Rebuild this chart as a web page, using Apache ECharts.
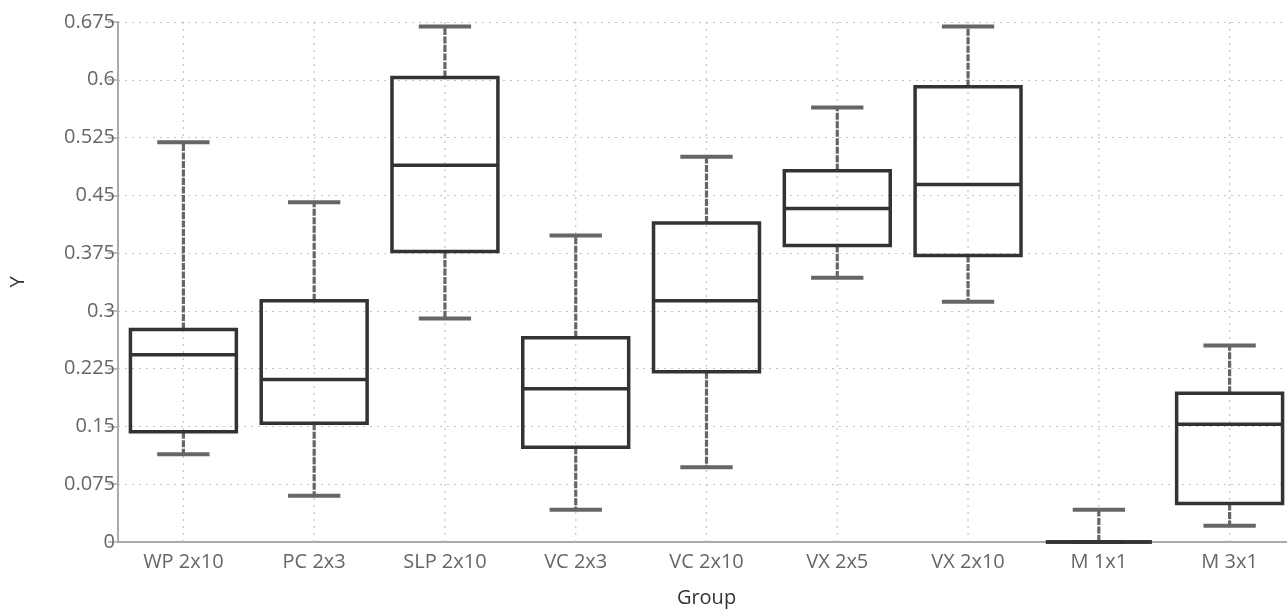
<!DOCTYPE html>
<html>
<head>
<meta charset="utf-8">
<title>Box plot by group</title>
<script src="https://cdn.jsdelivr.net/npm/echarts@6/dist/echarts.min.js"></script>
<style>
  html, body { margin: 0; padding: 0; background: #fff; }
  #chart { width: 1287px; height: 612px; }
</style>
</head>
<body>
<div id="chart"></div>
<script>
// Groups along the x axis
const categories = ['WP 2x10', 'PC 2x3', 'SLP 2x10', 'VC 2x3', 'VC 2x10', 'VX 2x5', 'VX 2x10', 'M 1x1', 'M 3x1'];

// Five-number summary per group
const lowerWhisker = [0.114, 0.060, 0.290, 0.042, 0.097, 0.343, 0.312, 0.000, 0.021];
const q1           = [0.143, 0.154, 0.377, 0.123, 0.221, 0.385, 0.372, 0.000, 0.050];
const median       = [0.243, 0.211, 0.489, 0.199, 0.313, 0.433, 0.464, 0.000, 0.153];
const q3           = [0.276, 0.313, 0.603, 0.265, 0.414, 0.482, 0.591, 0.000, 0.193];
const upperWhisker = [0.519, 0.441, 0.669, 0.398, 0.500, 0.564, 0.669, 0.042, 0.255];

// Y axis ticks
const yTicks = [0, 0.075, 0.15, 0.225, 0.3, 0.375, 0.45, 0.525, 0.6, 0.675];

const rows = categories.map((c, i) => [i, lowerWhisker[i], q1[i], median[i], q3[i], upperWhisker[i]]);

const FONT = '"Open Sans", "Noto Sans", sans-serif';
const gridStroke = { stroke: '#c4c4c4', lineWidth: 1.2, lineDash: [2, 5] };

function renderBox(params, api) {
  const i = api.value(0);
  const band = api.size([1, 0])[0];
  const boxHalf = band * 0.405;
  const capHalf = band * 0.2;
  const yTop = api.coord([i, yTicks[yTicks.length - 1]]);
  const yBot = api.coord([i, yTicks[0]]);
  const pLo = api.coord([i, api.value(1)]);
  const pQ1 = api.coord([i, api.value(2)]);
  const pMd = api.coord([i, api.value(3)]);
  const pQ3 = api.coord([i, api.value(4)]);
  const pHi = api.coord([i, api.value(5)]);
  const x = pMd[0];

  const whiskerStyle = { stroke: '#666666', lineWidth: 3.2, lineDash: [7, 1.5] };
  const capStyle = { stroke: '#666666', lineWidth: 4 };
  const boxStyle = { stroke: '#333333', lineWidth: 3.5, fill: null };

  return {
    type: 'group',
    children: [
      // vertical dotted grid line through the group centre
      { type: 'line', shape: { x1: x, y1: yTop[1], x2: x, y2: yBot[1] }, style: gridStroke, silent: true },
      // whiskers
      { type: 'line', shape: { x1: x, y1: pQ3[1], x2: x, y2: pHi[1] }, style: whiskerStyle },
      { type: 'line', shape: { x1: x, y1: pQ1[1], x2: x, y2: pLo[1] }, style: whiskerStyle },
      // caps
      { type: 'line', shape: { x1: x - capHalf, y1: pHi[1], x2: x + capHalf, y2: pHi[1] }, style: capStyle },
      { type: 'line', shape: { x1: x - capHalf, y1: pLo[1], x2: x + capHalf, y2: pLo[1] }, style: capStyle },
      // box
      { type: 'rect', shape: { x: x - boxHalf, y: pQ3[1], width: boxHalf * 2, height: pQ1[1] - pQ3[1] }, style: boxStyle },
      // median
      { type: 'line', shape: { x1: x - boxHalf, y1: pMd[1], x2: x + boxHalf, y2: pMd[1] }, style: { stroke: '#333333', lineWidth: 3.5 } }
    ]
  };
}

const chart = echarts.init(document.getElementById('chart'), null, { renderer: 'canvas' });
chart.setOption({
  animation: false,
  backgroundColor: '#ffffff',
  grid: { left: 118, width: 1177, top: 22, bottom: 70, containLabel: false, outerBoundsMode: 'none' },
  xAxis: {
    type: 'category',
    data: categories,
    boundaryGap: true,
    name: 'Group',
    nameLocation: 'middle',
    nameGap: 46,
    nameTextStyle: { fontFamily: FONT, fontSize: 20, color: '#333' },
    axisLine: { lineStyle: { color: '#aaaaaa', width: 2 } },
    axisTick: { alignWithLabel: true, length: 8, lineStyle: { color: '#aaaaaa', width: 1.5 } },
    axisLabel: { fontFamily: FONT, fontSize: 20, color: '#666', margin: 10 },
    splitLine: { show: false }
  },
  yAxis: {
    type: 'value',
    min: 0,
    max: 0.675,
    interval: 0.075,
    name: 'Y',
    nameLocation: 'middle',
    nameGap: 90,
    nameTextStyle: { fontFamily: FONT, fontSize: 20, color: '#333' },
    axisLine: { show: true, lineStyle: { color: '#aaaaaa', width: 2 } },
    axisTick: { show: true, length: 10, lineStyle: { color: '#aaaaaa', width: 1.5 } },
    axisLabel: {
      fontFamily: FONT, fontSize: 20, color: '#666', margin: 3,
      formatter: v => String(parseFloat(v.toFixed(3)))
    },
    splitLine: { show: true, lineStyle: { color: '#c4c4c4', width: 1.2, type: [2, 5] } }
  },
  series: [{
    type: 'custom',
    renderItem: renderBox,
    encode: { x: 0, y: [1, 2, 3, 4, 5] },
    data: rows,
    clip: false
  }]
});
</script>
</body>
</html>
